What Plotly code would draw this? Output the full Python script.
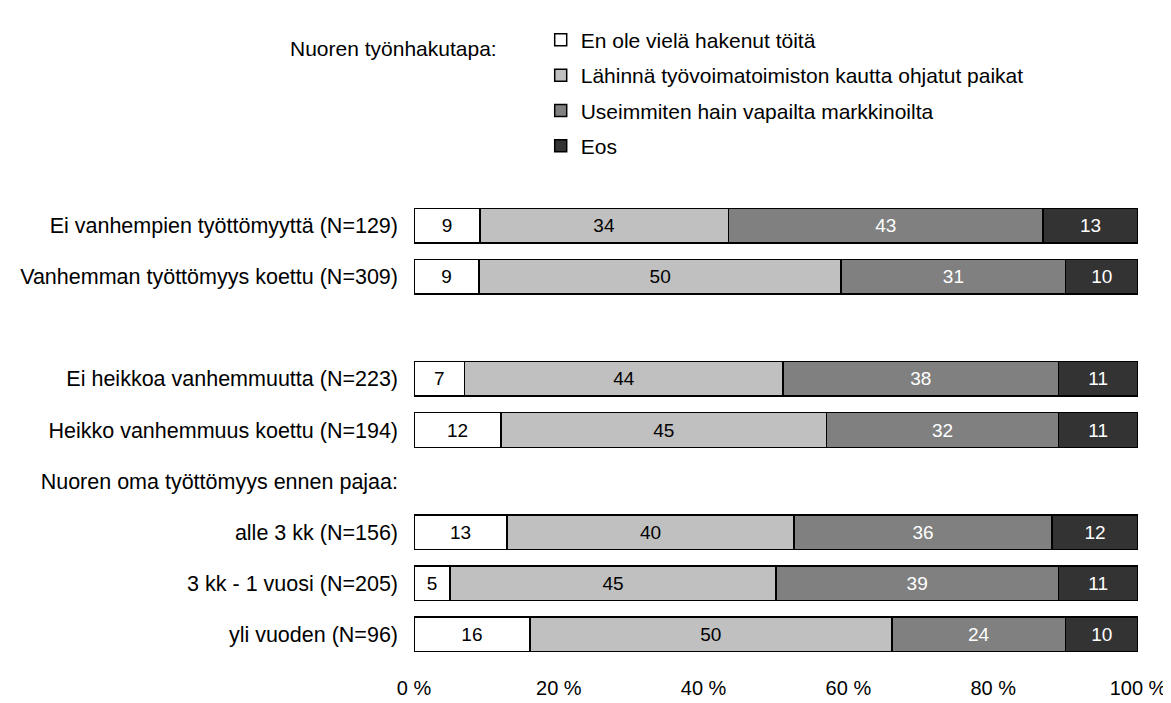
import plotly.graph_objects as go

rows = [
    "Ei vanhempien työttömyyttä (N=129)",
    "Vanhemman työttömyys koettu (N=309)",
    " ",
    "Ei heikkoa vanhemmuutta (N=223)",
    "Heikko vanhemmuus koettu (N=194)",
    "Nuoren oma työttömyys ennen pajaa:",
    "alle 3 kk (N=156)",
    "3 kk - 1 vuosi (N=205)",
    "yli vuoden (N=96)",
]

series_names = [
    "En ole vielä hakenut töitä",
    "Lähinnä työvoimatoimiston kautta ohjatut paikat",
    "Useimmiten hain vapailta markkinoilta",
    "Eos",
]

en_ole = [9, 9, None, 7, 12, None, 13, 5, 16]
tyovoima = [34, 50, None, 44, 45, None, 40, 45, 50]
vapailta = [43, 31, None, 38, 32, None, 36, 39, 24]
eos = [13, 10, None, 11, 11, None, 12, 11, 10]

legend_title = "Nuoren työnhakutapa:"
x_ticks = [0, 20, 40, 60, 80, 100]

colors = ["#FFFFFF", "#C0C0C0", "#808080", "#333333"]
text_colors = ["#000000", "#000000", "#FFFFFF", "#FFFFFF"]

FONT = "Liberation Sans, Arial, sans-serif"

fig = go.Figure()
for i, (name, vals) in enumerate(zip(series_names, [en_ole, tyovoima, vapailta, eos])):
    fig.add_trace(go.Bar(
        y=rows,
        x=vals,
        name=name,
        orientation="h",
        legendgroup=f"g{i}",
        marker=dict(color=colors[i], line=dict(color="#000000", width=1.5)),
        text=[("" if v is None else str(v)) for v in vals],
        textposition="inside",
        insidetextanchor="middle",
        textangle=0,
        textfont=dict(family=FONT, size=19, color=text_colors[i]),
        hoverinfo="skip",
    ))

fig.update_layout(
    barmode="stack",
    barnorm="percent",
    bargap=0.324,
    width=1171,
    height=703,
    paper_bgcolor="white",
    plot_bgcolor="white",
    margin=dict(l=406, r=36, t=182, b=41),
    font=dict(family=FONT, size=20, color="#000000"),
    showlegend=True,
    legend=dict(
        x=0.175, y=1.392, xanchor="left", yanchor="top",
        traceorder="grouped",
        font=dict(family=FONT, size=21, color="#000000"),
        tracegroupgap=5,
        bgcolor="rgba(0,0,0,0)",
    ),
    annotations=[dict(
        text=legend_title, xref="paper", yref="paper",
        x=0.118, y=1.33, xanchor="right", yanchor="middle",
        showarrow=False, font=dict(family=FONT, size=21, color="#000000"),
    )],
)

fig.update_xaxes(
    range=[0, 100],
    tickvals=x_ticks,
    ticktext=[f"{t} %" for t in x_ticks],
    showgrid=False, zeroline=False, showline=False, ticks="",
    ticklabelstandoff=14,
    tickfont=dict(family=FONT, size=20),
    fixedrange=True,
)
fig.update_yaxes(
    categoryorder="array",
    categoryarray=rows,
    autorange="reversed",
    showgrid=False, zeroline=False, showline=False, ticks="",
    ticklabelstandoff=15,
    tickfont=dict(family=FONT, size=21.5),
    fixedrange=True,
)

fig.write_html("out.html")
